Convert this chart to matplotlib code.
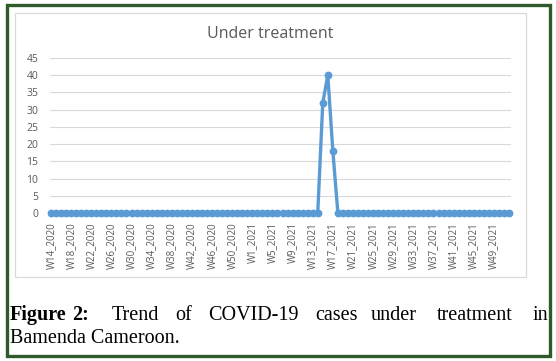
import numpy as np
import matplotlib.pyplot as plt
from matplotlib.patches import Rectangle

# week categories (2020 runs to W53)
weeks = [f"W{w}_2020" for w in range(14, 54)] + [f"W{w}_2021" for w in range(1, 53)]

under_treatment_2020 = [0, 0, 0, 0, 0, 0, 0, 0, 0, 0,
                        0, 0, 0, 0, 0, 0, 0, 0, 0, 0,
                        0, 0, 0, 0, 0, 0, 0, 0, 0, 0,
                        0, 0, 0, 0, 0, 0, 0, 0, 0, 0]
under_treatment_2021 = [0, 0, 0, 0, 0, 0, 0, 0, 0, 0,
                        0, 0, 0, 0, 32, 40, 18, 0, 0, 0,
                        0, 0, 0, 0, 0, 0, 0, 0, 0, 0,
                        0, 0, 0, 0, 0, 0, 0, 0, 0, 0,
                        0, 0, 0, 0, 0, 0, 0, 0, 0, 0,
                        0, 0]
values = under_treatment_2020 + under_treatment_2021
y_ticks = [0, 5, 10, 15, 20, 25, 30, 35, 40, 45]

W, H = 556, 361
grey = '#595959'


def fx(px):
    return px / W


def fy(py):
    return 1 - py / H


fig = plt.figure(figsize=(W / 100, H / 100), dpi=100)

# outer green frame and inner chart box
fig.patches.append(Rectangle((fx(6.5), fy(356)), fx(549.5) - fx(6.5), fy(4.5) - fy(356),
                             transform=fig.transFigure, fill=False,
                             edgecolor='#2f5a2a', linewidth=2.4))
fig.patches.append(Rectangle((fx(15), fy(277)), fx(526) - fx(15), fy(13) - fy(277),
                             transform=fig.transFigure, fill=False,
                             edgecolor='#d9d9d9', linewidth=0.9))

ax = fig.add_axes([fx(50), fy(213), fx(511) - fx(50), fy(58) - fy(213)])
x = np.arange(len(weeks))
ax.plot(x, values, color='#5b9bd5', linewidth=2.4, marker='o', markersize=4.6,
        clip_on=False, zorder=3)
ax.set_ylim(0, 45)
ax.set_xlim(-0.2, len(weeks) - 1 + 0.4)
ax.set_yticks(y_ticks)
ax.set_xticks(x[::4])
ax.set_xticklabels(weeks[::4], rotation=90, va='top', ha='center')
ax.yaxis.grid(True, color='#d9d9d9', linewidth=0.8)
ax.set_axisbelow(True)
for s in ax.spines.values():
    s.set_visible(False)
ax.tick_params(axis='both', length=0, labelsize=7, labelcolor=grey)
ax.tick_params(axis='y', pad=8.5, labelsize=7.5)
ax.tick_params(axis='x', pad=6.5)
for lab in ax.get_xticklabels() + ax.get_yticklabels():
    lab.set_family('Open Sans')

fig.text(fx(270), fy(34), 'Under treatment', ha='center', va='center',
         fontsize=11.5, color=grey, family='Open Sans')

# justified caption, word by word
cap_words = [('Figure', 10, 'bold'), ('2:', 72, 'bold'), ('Trend', 112, 'normal'),
             ('of', 175, 'normal'), ('COVID-19', 208, 'normal'), ('cases', 315, 'normal'),
             ('under', 371, 'normal'), ('treatment', 437, 'normal'), ('in', 533, 'normal')]
for word, px, wt in cap_words:
    fig.text(fx(px), fy(320), word, ha='left', va='baseline', fontsize=14.5,
             fontweight=wt, family='Liberation Serif', color='black')
fig.text(fx(10), fy(343), 'Bamenda Cameroon.', ha='left', va='baseline', fontsize=14.5,
         family='Liberation Serif', color='black')

fig.savefig('out.png', dpi=100)
